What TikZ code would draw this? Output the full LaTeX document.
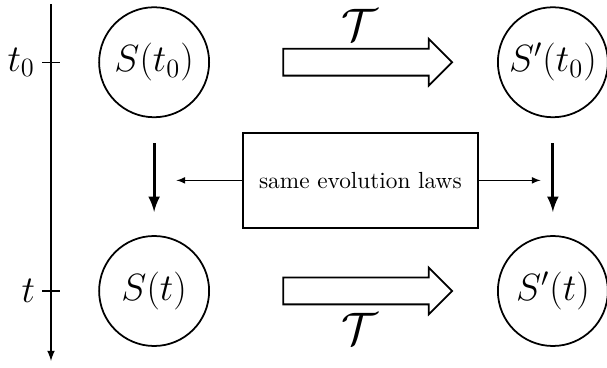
\documentclass[tikz,border=0pt]{standalone}
\usetikzlibrary{positioning,shapes.arrows}
\begin{document}
\begin{tikzpicture}[>=latex,
  state/.style={circle,draw,thick,minimum size=1.76cm,inner sep=0pt,font=\LARGE},
  fat/.style={single arrow,draw,thick,minimum height=2.7cm,inner xsep=0pt,inner ysep=0.2cm,
    single arrow head extend=0.16cm}]

\def\ya{3.66}
\def\yb{0}
\def\xl{1.65}
\def\xr{8.03}

\useasboundingbox (-0.816,-1.216) rectangle (8.896,4.656);

%==== time axis ====
\coordinate (top) at (0,4.59);
\coordinate (bot) at (0,-1.12);
\draw[->,semithick] (top) -- (bot);
\draw[semithick] (-0.144,\ya) -- (0.144,\ya);
\draw[semithick] (-0.144,\yb) -- (0.144,\yb);
\node[font=\LARGE,left,inner sep=3pt] (tz) at (-0.144,\ya) {$t_0$};
\node[font=\LARGE,left,inner sep=3pt] (tt) at (-0.144,\yb) {$t$};

%==== systems ====
\node[state] (S0) at (\xl,\ya) {$S(t_0)$};
\node[state] (S)  at (\xl,\yb) {$S(t)$};
\node[state] (P0) at (\xr,\ya) {$S'(t_0)$};
\node[state] (P)  at (\xr,\yb) {$S'(t)$};

%==== transformation ====
\node[fat] (T0) at (4.96,\ya) {};
\node[fat] (T)  at (4.96,\yb) {};
\node[font=\huge,inner sep=0pt,above=0.12cm of T0,xshift=-0.02cm] (L0) {$\mathcal{T}$};
\node[font=\huge,inner sep=0pt,below=0.12cm of T,xshift=-0.02cm] (L)  {$\mathcal{T}$};

%==== evolution ====
\node[draw,thick,minimum width=3.76cm,minimum height=1.52cm,
  font=\fontsize{10.6}{13}\selectfont] (law) at (4.95,1.77) {same evolution laws};
\draw[->] (law.west) -- ++(-1.05,0);
\draw[->] (law.east) -- ++(0.99,0);
\draw[->,line width=1.4pt] ([yshift=-0.4cm]S0.south) -- ([yshift=0.37cm]S.north);
\draw[->,line width=1.4pt] ([yshift=-0.4cm]P0.south) -- ([yshift=0.37cm]P.north);

\end{tikzpicture}
\end{document}
